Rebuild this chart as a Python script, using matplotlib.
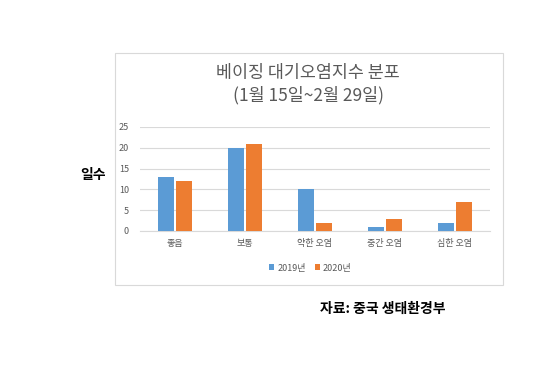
import matplotlib.pyplot as plt
import numpy as np
from matplotlib.patches import Rectangle

plt.rcParams['font.family'] = ['Noto Sans CJK KR', 'DejaVu Sans']

# 데이터
categories = ['좋음', '보통', '약한 오염', '중간 오염', '심한 오염']
days_2019 = [13, 20, 10, 1, 2]
days_2020 = [12, 21, 2, 3, 7]
series_names = ['2019년', '2020년']
y_ticks = [0, 5, 10, 15, 20, 25]

blue = '#5B9BD5'
orange = '#ED7D31'
grey_text = '#595959'

fig = plt.figure(figsize=(5.59, 3.77), dpi=100)

# 차트 테두리 (축 뒤에 그림)
frame = Rectangle((0.2057, 0.244), 0.6941, 0.6154, transform=fig.transFigure,
                  facecolor='white', edgecolor='#d9d9d9', linewidth=0.8, zorder=-1)
fig.patches.append(frame)

ax = fig.add_axes([0.2504, 0.3873, 0.6261, 0.2759])
x = np.arange(len(categories))
w = 0.22
ax.bar(x - w / 2 - 0.02, days_2019, width=w, color=blue, label=series_names[0], zorder=3)
ax.bar(x + w / 2 + 0.02, days_2020, width=w, color=orange, label=series_names[1], zorder=3)

ax.set_xlim(-0.5, len(categories) - 0.5)
ax.set_ylim(0, 25)
ax.set_yticks(y_ticks)
ax.set_xticks(x)
ax.set_xticklabels(categories)
ax.tick_params(axis='both', length=0, labelsize=6.5, colors=grey_text)
ax.tick_params(axis='x', pad=6)
ax.tick_params(axis='y', pad=8)
ax.grid(axis='y', color='#d9d9d9', linewidth=0.8, zorder=0)
for s in ['top', 'right', 'left']:
    ax.spines[s].set_visible(False)
ax.spines['bottom'].set_color('#d9d9d9')
ax.set_facecolor('none')

fig.text(0.551, 0.806, '베이징 대기오염지수 분포', ha='center', va='center',
         fontsize=12.5, color=grey_text)
fig.text(0.551, 0.748, '(1월 15일~2월 29일)', ha='center', va='center',
         fontsize=12.5, color=grey_text)

fig.text(0.166, 0.536, '일수', ha='center', va='center', fontsize=10,
         fontweight='bold', color='black')

fig.legend(loc='center', bbox_to_anchor=(0.555, 0.289), ncol=2, frameon=False,
           fontsize=6.5, handlelength=0.6, handleheight=0.6, handletextpad=0.3,
           columnspacing=1.0, labelcolor=grey_text)

fig.text(0.684, 0.18, '자료: 중국 생태환경부', ha='center', va='center',
         fontsize=10, fontweight='bold', color='black')

fig.savefig('out.png', dpi=100)
